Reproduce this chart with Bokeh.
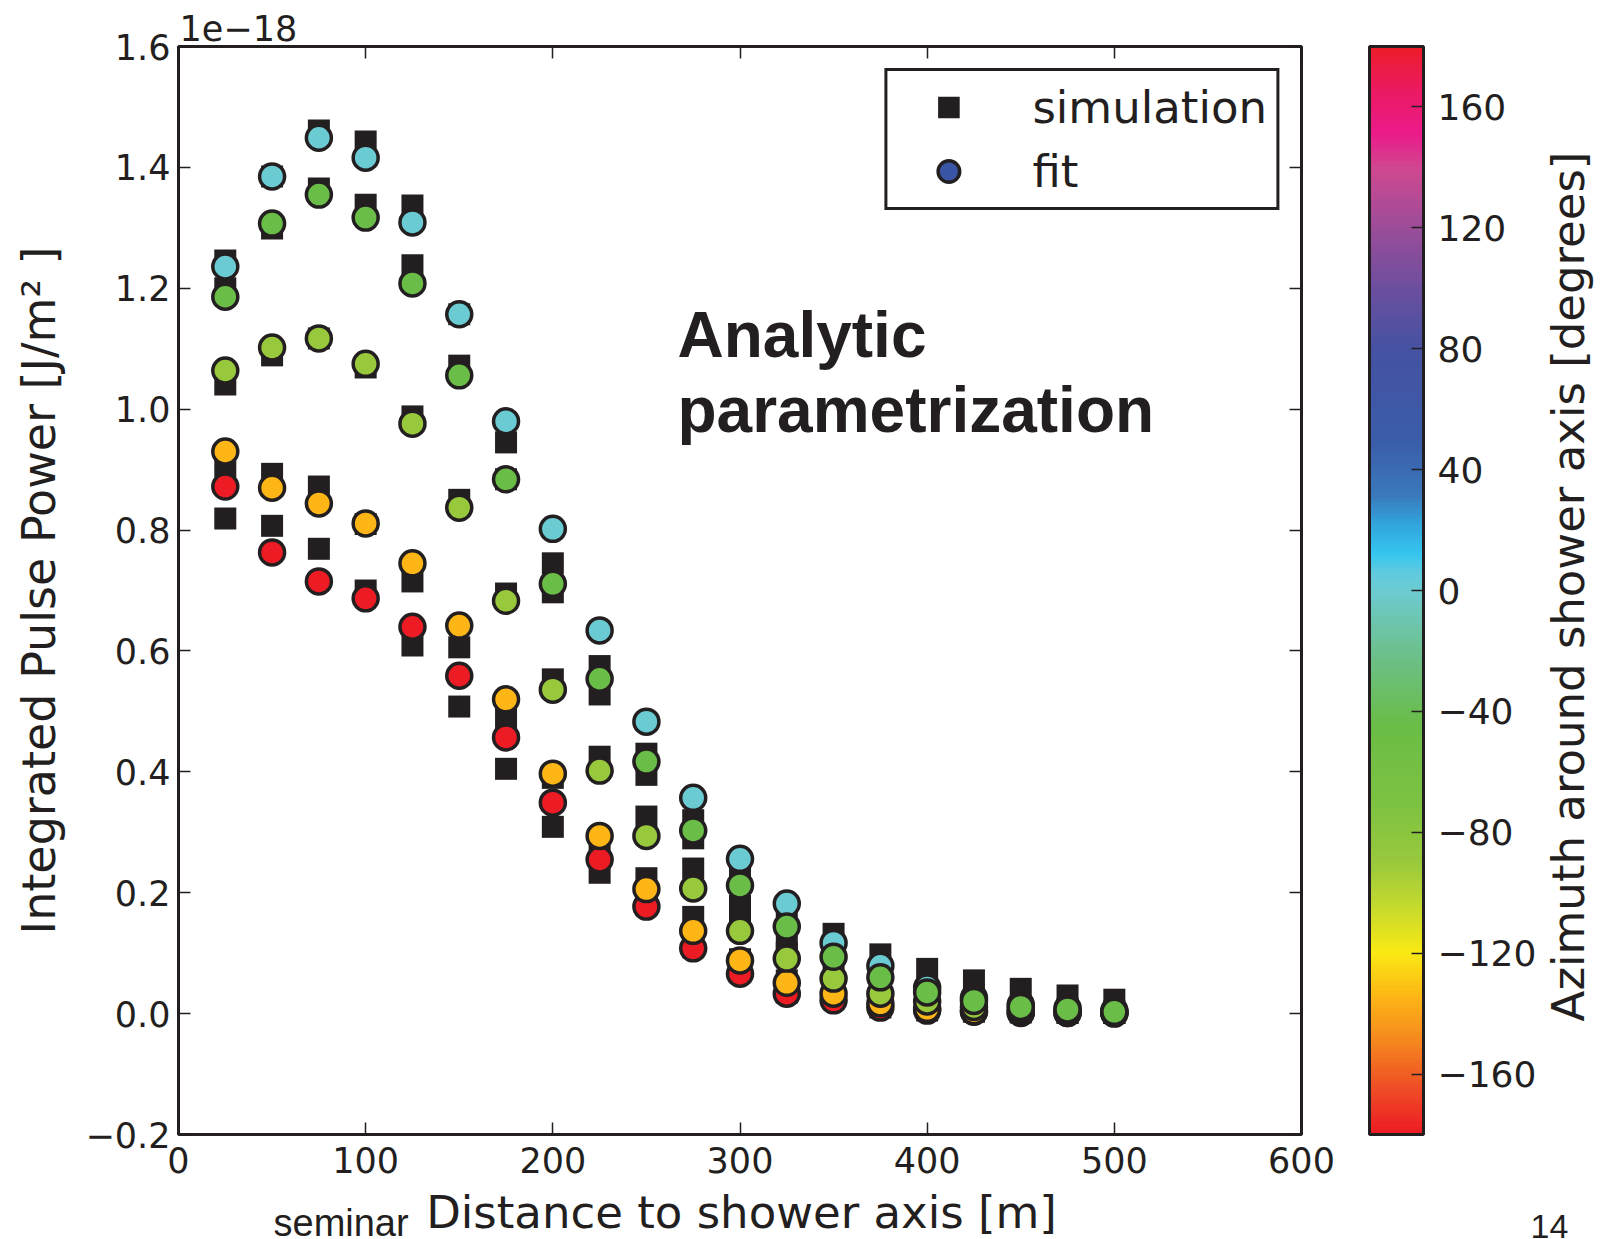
import numpy as np
from bokeh.plotting import figure
from bokeh.layouts import column
from bokeh.models import (ColumnDataSource, LinearColorMapper, ColorBar, FixedTicker,
                          LinearAxis, Label, Legend, LegendItem, Range1d, Title)
from bokeh.embed import file_html
from bokeh.resources import INLINE

# ---------------- data (values in units of 1e-18 J/m^2) ----------------
distance = [25, 50, 75, 100, 125, 150, 175, 200, 225, 250,
            275, 300, 325, 350, 375, 400, 425, 450, 475, 500]
azimuths = [0, -45, -90, -135, -180]

sim_az0 = [1.246, 1.385, 1.461, 1.443, 1.337, 1.157, 0.945, 0.745, 0.575, 0.430,
           0.320, 0.240, 0.175, 0.132, 0.098, 0.074, 0.055, 0.041, 0.030, 0.023]
sim_az45 = [1.200, 1.299, 1.365, 1.338, 1.238, 1.072, 0.884, 0.697, 0.528, 0.395,
            0.290, 0.178, 0.120, 0.100, 0.065, 0.040, 0.025, 0.012, 0.008, 0.004]
sim_az90 = [1.041, 1.089, 1.117, 1.069, 0.988, 0.850, 0.695, 0.553, 0.425, 0.326,
            0.240, 0.158, 0.100, 0.065, 0.040, 0.022, 0.012, 0.006, 0.004, 0.002]
sim_az135 = [0.905, 0.893, 0.872, 0.810, 0.715, 0.606, 0.490, 0.390, 0.280, 0.224,
             0.160, 0.090, 0.055, 0.035, 0.018, 0.008, 0.005, 0.003, 0.002, 0.001]
sim_az180 = [0.819, 0.807, 0.769, 0.700, 0.609, 0.508, 0.405, 0.309, 0.233, 0.180,
             0.110, 0.070, 0.035, 0.025, 0.010, 0.005, 0.003, 0.002, 0.001, 0.001]

fit_az0 = [1.236, 1.385, 1.449, 1.416, 1.309, 1.157, 0.980, 0.802, 0.634, 0.483,
           0.357, 0.256, 0.182, 0.117, 0.079, 0.043, 0.026, 0.015, 0.009, 0.005]
fit_az45 = [1.186, 1.307, 1.355, 1.317, 1.208, 1.056, 0.884, 0.711, 0.554, 0.417,
            0.303, 0.212, 0.144, 0.094, 0.060, 0.035, 0.021, 0.011, 0.007, 0.003]
fit_az90 = [1.064, 1.102, 1.117, 1.075, 0.976, 0.837, 0.683, 0.536, 0.402, 0.294,
            0.207, 0.137, 0.091, 0.058, 0.033, 0.020, 0.011, 0.006, 0.003, 0.002]
fit_az135 = [0.930, 0.870, 0.844, 0.811, 0.745, 0.642, 0.520, 0.397, 0.294, 0.206,
             0.137, 0.088, 0.051, 0.033, 0.017, 0.008, 0.004, 0.002, 0.001, 0.001]
fit_az180 = [0.872, 0.763, 0.715, 0.687, 0.640, 0.559, 0.457, 0.349, 0.255, 0.177,
             0.108, 0.066, 0.033, 0.022, 0.010, 0.005, 0.003, 0.001, 0.001, 0.000]

x_ticks = [0, 100, 200, 300, 400, 500, 600]
y_ticks = [-0.2, 0.0, 0.2, 0.4, 0.6, 0.8, 1.0, 1.2, 1.4, 1.6]
y_tick_labels = ["\u22120.2", "0.0", "0.2", "0.4", "0.6", "0.8", "1.0", "1.2", "1.4", "1.6"]
cb_ticks = [-160, -120, -80, -40, 0, 40, 80, 120, 160]
cb_tick_labels = ["\u2212160", "\u2212120", "\u221280", "\u221240", "0", "40", "80", "120", "160"]

# ---------------- colour map ----------------
anchor_deg = [-180, -165, -150, -135, -120, -105, -90, -70, -45, -20, 0, 6, 12, 22,
              32, 50, 80, 100, 120, 140, 152, 165, 180]
anchor_col = ["#ed1c24", "#ef4e26", "#f5861f", "#fdb515", "#f9ea14", "#c5d92d", "#98c93c",
              "#7cc242", "#6abd45", "#6cc08e", "#6dcbd1", "#5fcadf", "#36c6f0", "#31a5dc",
              "#3a78bb", "#3a5ca9", "#4552a2", "#6b4e9e", "#9a4d9a", "#cf4890", "#ec1a8a",
              "#ea1a66", "#ee1c2b"]


def hex2rgb(h):
    return [int(h[i:i + 2], 16) for i in (1, 3, 5)]


rgb = np.array([hex2rgb(c) for c in anchor_col], dtype=float)
grid = np.linspace(-180, 180, 256)
palette = []
for g in grid:
    r = np.interp(g, anchor_deg, rgb[:, 0])
    gg = np.interp(g, anchor_deg, rgb[:, 1])
    b = np.interp(g, anchor_deg, rgb[:, 2])
    palette.append("#%02x%02x%02x" % (int(round(r)), int(round(gg)), int(round(b))))

mapper = LinearColorMapper(palette=palette, low=-180, high=180)

INK = "#231f20"
FONT = "DejaVu Sans"


def add_label(fig, text, x, y, size, font=FONT, align="left", style="normal", place=None):
    lbl = Label(x=x, y=y, x_units="screen", y_units="screen", text=text,
                text_font=font, text_font_size=size, text_font_style=style,
                text_color=INK, text_align=align, text_baseline="alphabetic")
    if place is None:
        fig.add_layout(lbl)
    else:
        fig.add_layout(lbl, place)


# ---------------- main figure ----------------
p = figure(width=1601, height=1188, output_backend="svg", toolbar_location=None,
           x_range=Range1d(0, 600), y_range=Range1d(-0.2, 1.6),
           min_border_left=178, min_border_right=300, min_border_top=46,
           min_border_bottom=54, background_fill_color="white",
           border_fill_color="white")
p.xgrid.visible = False
p.ygrid.visible = False
p.outline_line_color = INK
p.outline_line_width = 3
p.outline_line_alpha = 1

p.title = Title(text="1e\u221218", align="left", offset=1, standoff=11,
                text_font=FONT, text_font_size="35px", text_font_style="normal",
                text_color=INK, text_line_height=1.0)

for ax in (p.xaxis[0], p.yaxis[0]):
    ax.axis_line_color = None
    ax.major_tick_in = 12
    ax.major_tick_out = 0
    ax.minor_tick_line_color = None
    ax.major_tick_line_color = INK
    ax.major_tick_line_width = 1.5
    ax.major_label_text_font = FONT
    ax.major_label_text_font_size = "35px"
    ax.major_label_text_color = INK

p.xaxis.ticker = FixedTicker(ticks=x_ticks)
p.xaxis.major_label_standoff = 12
p.yaxis.ticker = FixedTicker(ticks=y_ticks)
p.yaxis.major_label_overrides = dict(zip(y_ticks, y_tick_labels))
p.yaxis.major_label_standoff = 8
p.yaxis.axis_label = "Integrated Pulse Power [J/m\u00b2 ]"
p.yaxis.axis_label_text_font = FONT
p.yaxis.axis_label_text_font_size = "46px"
p.yaxis.axis_label_text_font_style = "normal"
p.yaxis.axis_label_text_color = INK
p.yaxis.axis_label_standoff = 17

top_ax = LinearAxis(ticker=FixedTicker(ticks=x_ticks), axis_line_color=None,
                    major_tick_in=12, major_tick_out=0, major_tick_line_color=INK,
                    major_tick_line_width=1.5, minor_tick_line_color=None,
                    major_label_overrides={v: "" for v in x_ticks},
                    major_label_standoff=0)
right_ax = LinearAxis(ticker=FixedTicker(ticks=y_ticks), axis_line_color=None,
                      major_tick_in=12, major_tick_out=0, major_tick_line_color=INK,
                      major_tick_line_width=1.5, minor_tick_line_color=None,
                      major_label_overrides={v: "" for v in y_ticks},
                      major_label_standoff=0)
p.add_layout(top_ax, "above")
p.add_layout(right_ax, "right")

# ---------------- glyphs ----------------
sims = [sim_az0, sim_az45, sim_az90, sim_az135, sim_az180]
fits = [fit_az0, fit_az45, fit_az90, fit_az135, fit_az180]

sx, sy = [], []
for s_ in sims:
    sx += distance
    sy += s_
sim_src = ColumnDataSource(dict(x=sx, y=sy))
sq = p.scatter("x", "y", source=sim_src, marker="square", size=22,
               fill_color=INK, line_color=INK, line_width=0)

# draw order: red, orange, yellow-green, cyan, green
order = [4, 3, 2, 0, 1]
fx, fy, fa = [], [], []
for k in order:
    fx += distance
    fy += fits[k]
    fa += [azimuths[k]] * len(distance)
fit_src = ColumnDataSource(dict(x=fx, y=fy, az=fa))
p.scatter("x", "y", source=fit_src, marker="circle", size=25,
          fill_color={"field": "az", "transform": mapper},
          line_color=INK, line_width=3.5)

# legend proxy for "fit" (NaN position, so nothing drawn in the plot area)
legend_fit = p.scatter(x=[np.nan], y=[np.nan], marker="circle", size=25,
                       fill_color="#3a55a5", line_color=INK, line_width=3.5)

legend = Legend(items=[LegendItem(label="simulation", renderers=[sq]),
                       LegendItem(label="fit", renderers=[legend_fit])],
                location="top_right", margin=22, padding=9, spacing=10,
                glyph_width=104, glyph_height=54, label_height=45, label_standoff=32,
                label_text_font=FONT, label_text_font_size="45px",
                label_text_color=INK, border_line_color=INK, border_line_width=3,
                border_line_alpha=1,
                background_fill_color="white", background_fill_alpha=1)
p.add_layout(legend)

# ---------------- colour bar ----------------
cb = ColorBar(color_mapper=mapper, ticker=FixedTicker(ticks=cb_ticks),
              major_label_overrides=dict(zip(cb_ticks, cb_tick_labels)),
              width=54, height=1088, padding=0, margin=0, location=(68, 0),
              bar_line_color=INK, bar_line_width=3,
              major_tick_line_color=INK, major_tick_line_width=1.5,
              major_tick_in=12, major_tick_out=0, minor_tick_line_color=None,
              label_standoff=14, major_label_text_font=FONT,
              major_label_text_font_size="36px", major_label_text_color=INK,
              border_line_color=None, background_fill_color=None)
p.add_layout(cb, "right")

# colour-bar label, placed in the right side panel (after the colour bar)
p.add_layout(Label(x=29, y=548, x_units="screen", y_units="screen",
                   text="Azimuth around shower axis [degrees]",
                   text_font=FONT, text_font_size="45px", text_color=INK,
                   text_align="center", text_baseline="middle", angle=np.pi / 2),
             "right")

# analytic text (inside frame)
add_label(p, "Analytic", 499, 800, "64px", font="Liberation Sans", style="bold")
add_label(p, "parametrization", 499, 725, "64px", font="Liberation Sans", style="bold")

# ---------------- bottom strip (x label and footer) ----------------
b = figure(width=1601, height=51, output_backend="svg", toolbar_location=None,
           x_range=Range1d(0, 1601), y_range=Range1d(0, 51),
           x_axis_type=None, y_axis_type=None, min_border=0,
           background_fill_color="white", border_fill_color="white")
b.xgrid.visible = False
b.ygrid.visible = False
b.outline_line_color = None
add_label(b, "Distance to shower axis [m]", 563, 27, "45px", align="center")
add_label(b, "seminar", 95, 17, "38px", font="Liberation Sans")
add_label(b, "14", 229, 13, "34px", font="Liberation Sans", place="right")

layout = column(p, b, spacing=0)
open("out.html", "w").write(file_html(layout, INLINE))
